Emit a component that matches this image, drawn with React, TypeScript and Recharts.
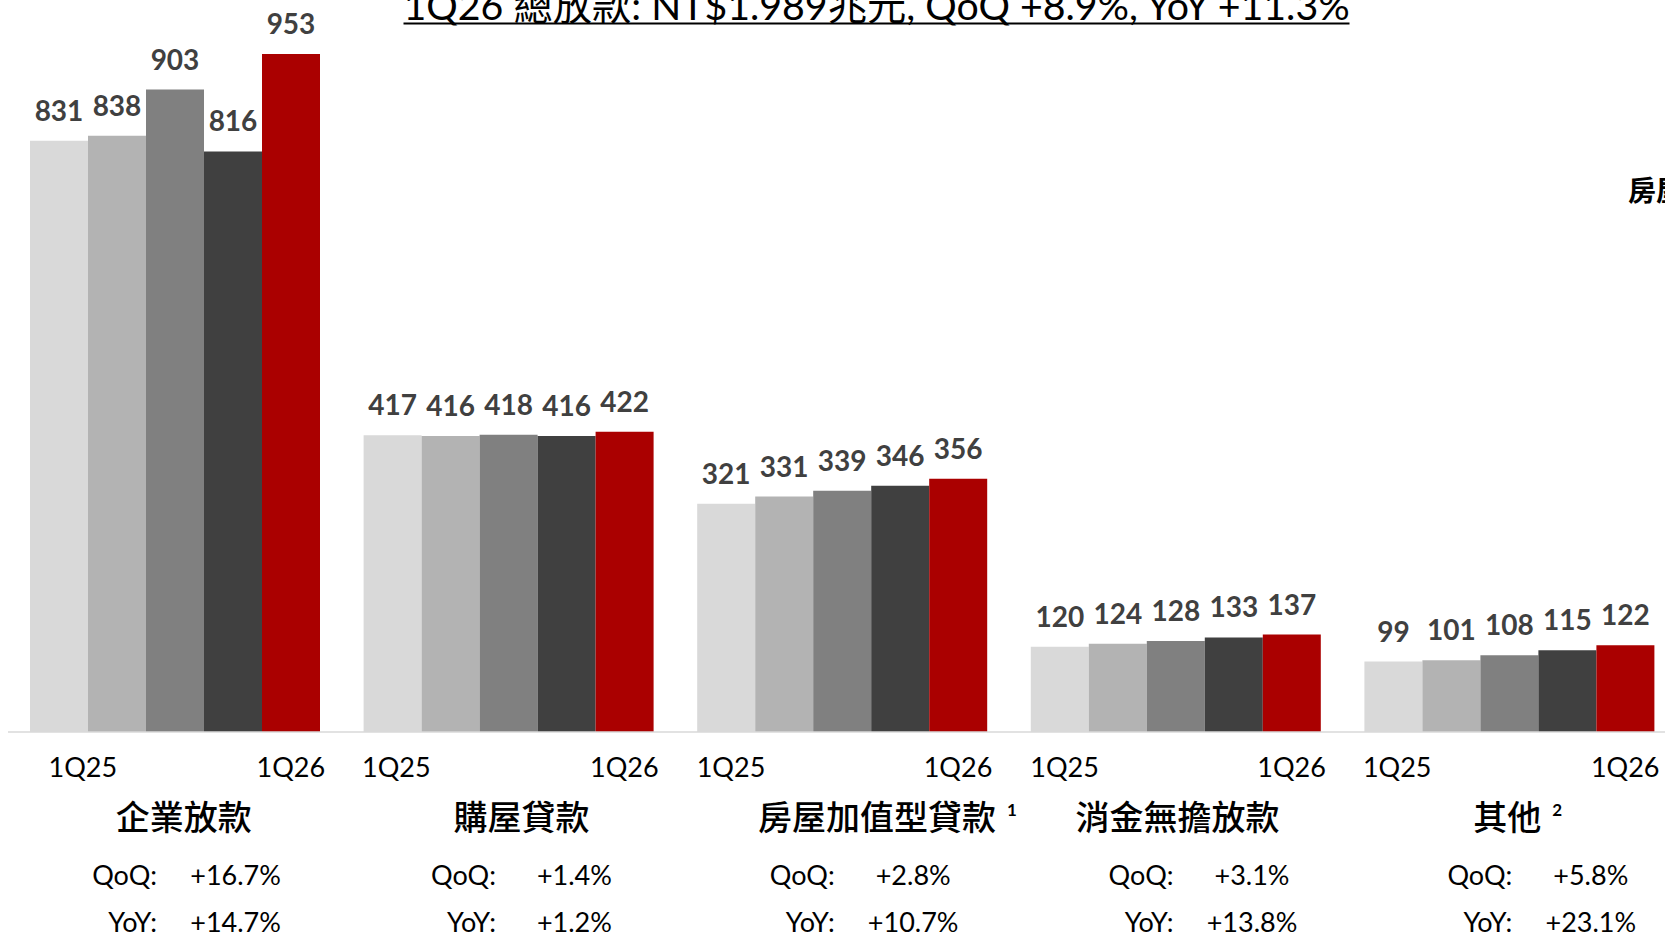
import { BarChart, Bar, XAxis, YAxis, LabelList } from "recharts";

// loan balances, NT$ bn
const categories = ["企業放款", "購屋貸款", "房屋加值型貸款", "消金無擔放款", "其他"];
const footnotes = ["", "", "1", "", "2"];
const quarters = ["1Q25", "2Q25", "3Q25", "4Q25", "1Q26"];
const q1_25 = [831, 417, 321, 120, 99];
const q2_25 = [838, 416, 331, 124, 101];
const q3_25 = [903, 418, 339, 128, 108];
const q4_25 = [816, 416, 346, 133, 115];
const q1_26 = [953, 422, 356, 137, 122];
const qoq = ["+16.7%", "+1.4%", "+2.8%", "+3.1%", "+5.8%"];
const yoy = ["+14.7%", "+1.2%", "+10.7%", "+13.8%", "+23.1%"];
const title = "1Q26 總放款: NT$1.989兆元, QoQ +8.9%, YoY +11.3%";
const sideNote = "房屋加值型貸款";

const series = [q1_25, q2_25, q3_25, q4_25, q1_26];
const colors = ["#D9D9D9", "#B3B3B3", "#808080", "#404040", "#AA0000"];

const data = categories.map((name, i) => {
  const row: Record<string, string | number> = { name };
  series.forEach((s, k) => (row[quarters[k]] = s[i]));
  return row;
});

const LATIN = "Lato, 'Noto Sans CJK TC', sans-serif";
const CJK = "'Noto Sans CJK TC', sans-serif";

// small per-group nudges so the text blocks sit where the slide has them
const firstQDx = [-92, -112, -111, -111, -112];
const nameDx = [9, 13, 35, 2, -2];
const NAME_SIZE = 34;

function ValueLabel({ x, y, width, value }: any) {
  return (
    <text
      x={x + width / 2}
      y={y - 20}
      textAnchor="middle"
      fill="#404040"
      fontFamily={LATIN}
      fontWeight={700}
      fontSize={28}
    >
      {value}
    </text>
  );
}

function CategoryTick({ x, y, index, payload }: any) {
  const i = index ?? payload?.index ?? 0;
  const name = categories[i];
  const nx = x + nameDx[i];
  const shift = 5.2 * i;
  return (
    <g fontFamily={LATIN} fill="#000">
      <text x={x + firstQDx[i]} y={y + 45} textAnchor="middle" fontSize={27}>
        {quarters[0]}
      </text>
      <text x={x + 116} y={y + 45} textAnchor="middle" fontSize={27}>
        {quarters[quarters.length - 1]}
      </text>
      <text
        x={nx}
        y={y + 83}
        textAnchor="middle"
        dominantBaseline="central"
        fontFamily={CJK}
        fontWeight={500}
        fontSize={NAME_SIZE}
      >
        {name}
      </text>
      {footnotes[i] && (
        <text
          x={nx + (name.length * NAME_SIZE) / 2 + 11}
          y={y + 84}
          fontSize={17}
          fontWeight={700}
        >
          {footnotes[i]}
        </text>
      )}
      <text x={x - 17.7 + shift} y={y + 153} textAnchor="end" fontSize={27}>
        QoQ:
      </text>
      <text x={x + 60.8 + shift} y={y + 153} textAnchor="middle" fontSize={27}>
        {qoq[i]}
      </text>
      <text x={x - 17.7 + shift} y={y + 200} textAnchor="end" fontSize={27}>
        YoY:
      </text>
      <text x={x + 60.8 + shift} y={y + 200} textAnchor="middle" fontSize={27}>
        {yoy[i]}
      </text>
    </g>
  );
}

export default function App() {
  return (
    <div
      style={{
        position: "absolute",
        left: 0,
        top: 0,
        width: 1665,
        height: 937,
        overflow: "hidden",
        background: "#fff",
      }}
    >
      <BarChart
        width={1676}
        height={937}
        data={data}
        margin={{ top: 20.6, right: 0, left: 8, bottom: 0 }}
        barGap={0}
        barSize={58}
      >
        <YAxis hide domain={[0, 1000]} />
        <XAxis
          dataKey="name"
          height={205}
          interval={0}
          tickSize={0}
          tickMargin={0}
          tickLine={false}
          axisLine={{ stroke: "#D9D9D9", strokeWidth: 1.5 }}
          tick={<CategoryTick />}
        />
        {quarters.map((q, k) => (
          <Bar key={q} dataKey={q} fill={colors[k]} isAnimationActive={false}>
            <LabelList dataKey={q} content={<ValueLabel />} />
          </Bar>
        ))}
      </BarChart>
      <svg
        width={1665}
        height={937}
        style={{ position: "absolute", left: 0, top: 0, pointerEvents: "none" }}
      >
        <text
          x={876.6}
          y={20}
          textAnchor="middle"
          fontFamily={LATIN}
          fontSize={39.3}
          fill="#000"
        >
          {title}
        </text>
        {/* title underline, drawn solid like the slide */}
        <line x1={403.5} x2={1349.5} y1={23.5} y2={23.5} stroke="#000" strokeWidth={2} />
        <text x={1628} y={201} fontFamily={CJK} fontWeight={700} fontSize={28} fill="#000">
          {sideNote}
        </text>
      </svg>
    </div>
  );
}
